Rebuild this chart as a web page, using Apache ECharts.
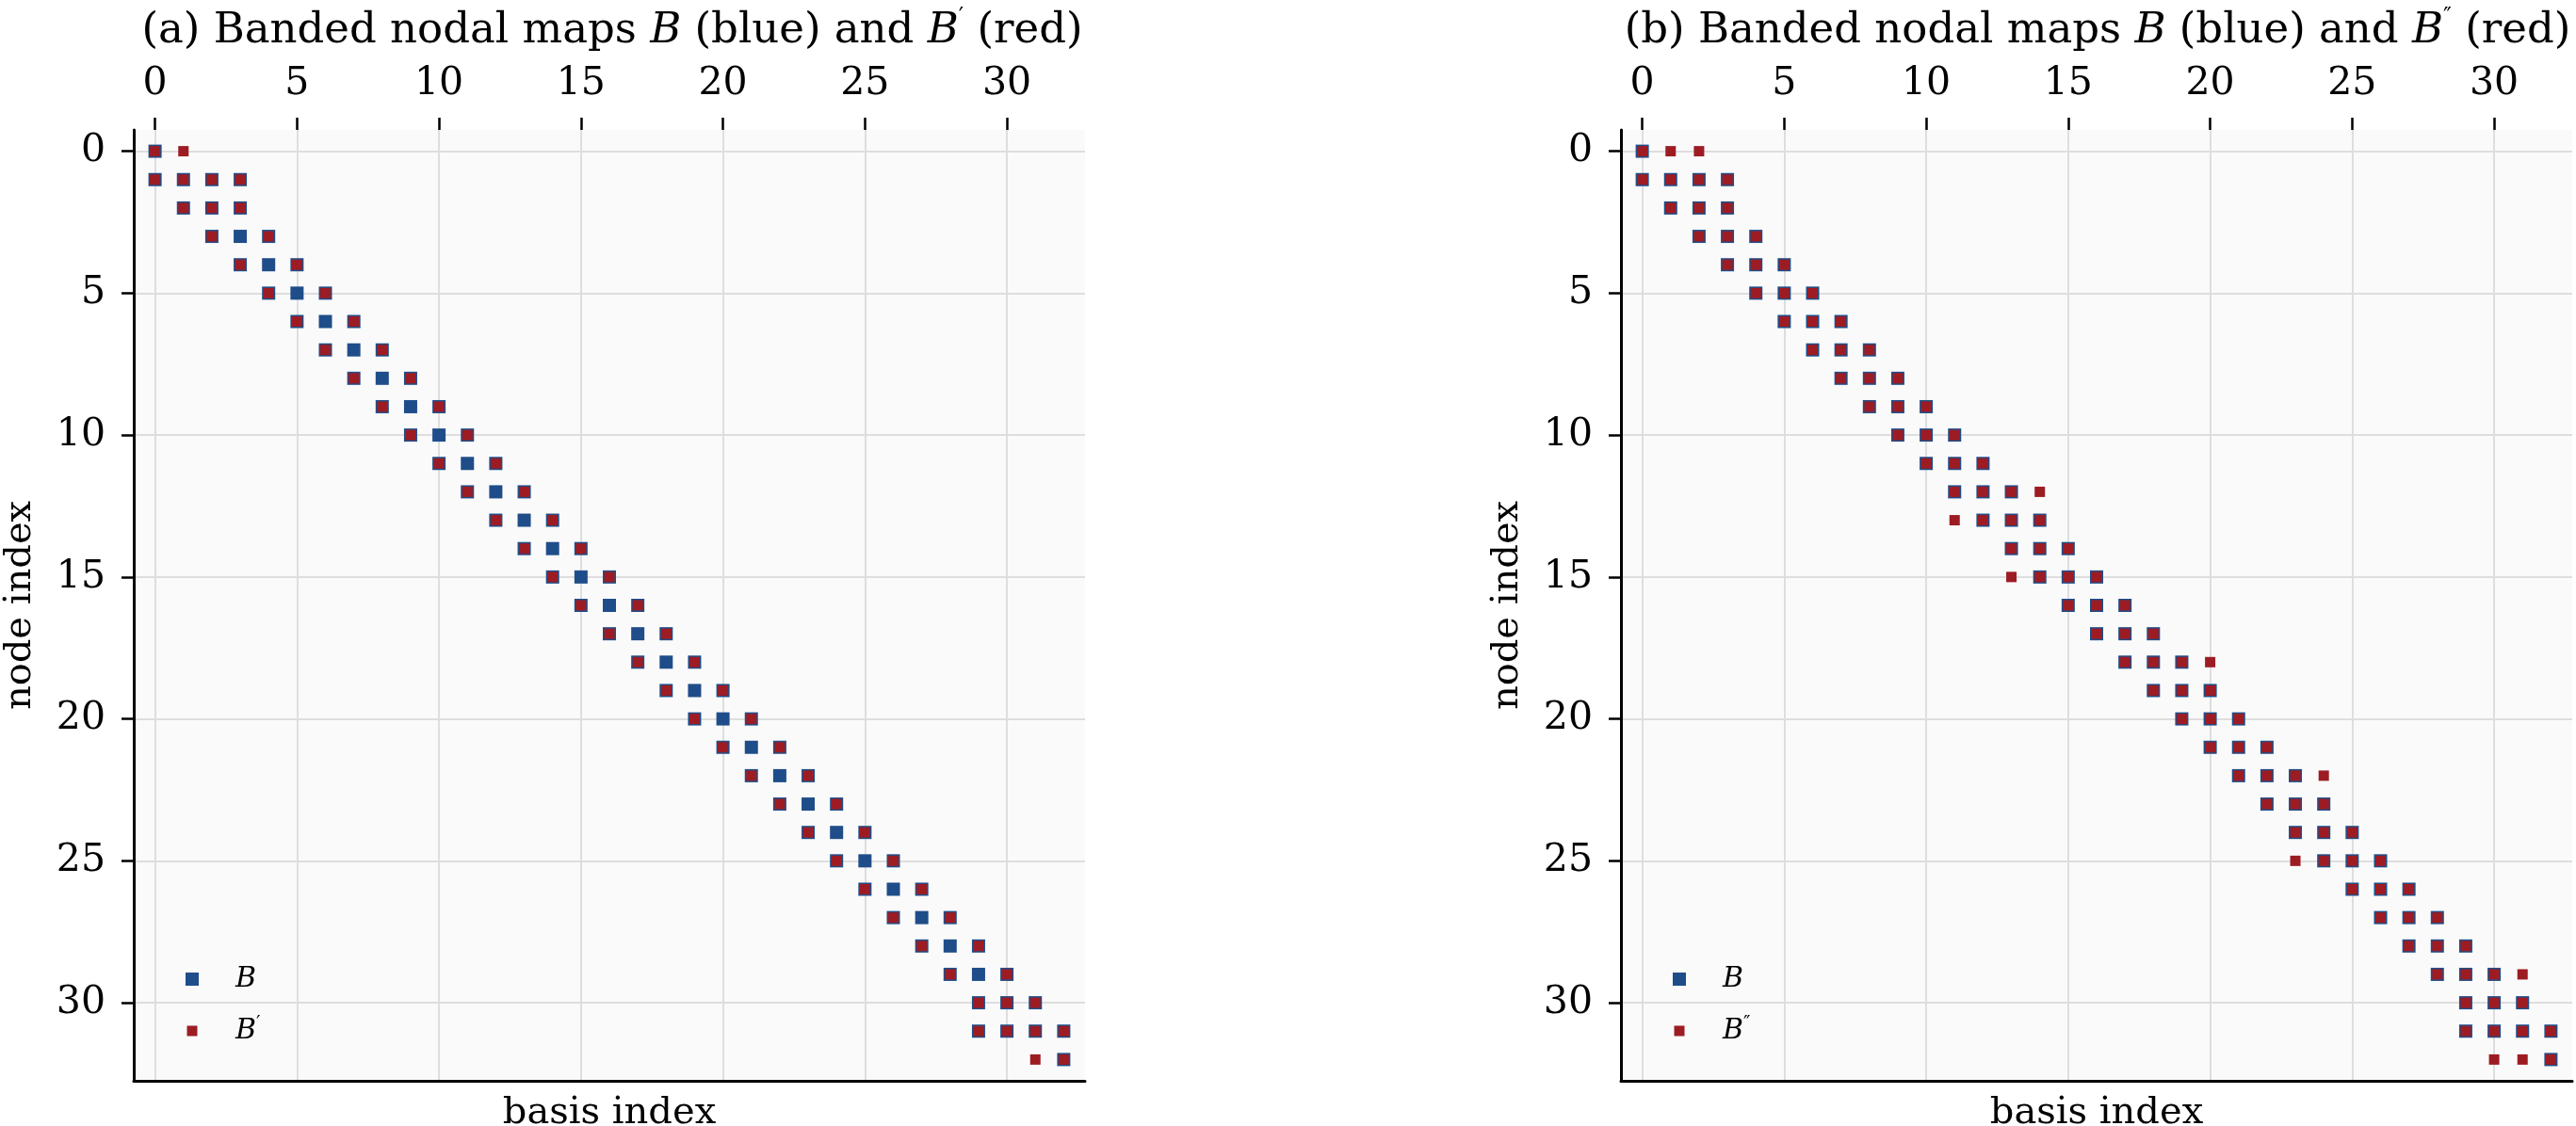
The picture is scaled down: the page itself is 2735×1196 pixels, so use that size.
<!DOCTYPE html>
<html>
<head>
<meta charset="utf-8">
<script src="https://cdn.jsdelivr.net/npm/echarts@6/dist/echarts.min.js"></script>
<style>
  html, body { margin: 0; padding: 0; background: #fff; }
  #main { width: 2735px; height: 1196px; }
</style>
</head>
<body>
<div id="main"></div>
<script>
// tick labels shared by both axes of both panels
var ticks = [0, 5, 10, 15, 20, 25, 30];

// nonzero columns of each row (row index = node index)
var bRows = [
  [0], [0, 1, 2, 3], [1, 2, 3], [2, 3, 4], [3, 4, 5], [4, 5, 6], [5, 6, 7], [6, 7, 8], [7, 8, 9], [8, 9, 10],
  [9, 10, 11], [10, 11, 12], [11, 12, 13], [12, 13, 14], [13, 14, 15], [14, 15, 16], [15, 16, 17], [16, 17, 18], [17, 18, 19], [18, 19, 20],
  [19, 20, 21], [20, 21, 22], [21, 22, 23], [22, 23, 24], [23, 24, 25], [24, 25, 26], [25, 26, 27], [26, 27, 28], [27, 28, 29], [28, 29, 30],
  [29, 30, 31], [29, 30, 31, 32], [32]
];
var bPrimeRows = [
  [0, 1], [0, 1, 2, 3], [1, 2, 3], [2, 4], [3, 5], [4, 6], [5, 7], [6, 8], [7, 9], [8, 10],
  [9, 11], [10, 12], [11, 13], [12, 14], [13, 15], [14, 16], [15, 17], [16, 18], [17, 19], [18, 20],
  [19, 21], [20, 22], [21, 23], [22, 24], [23, 25], [24, 26], [25, 27], [26, 28], [27, 29], [28, 30],
  [29, 30, 31], [29, 30, 31, 32], [31, 32]
];
var bDoublePrimeRows = [
  [0, 1, 2], [0, 1, 2, 3], [1, 2, 3], [2, 3, 4], [3, 4, 5], [4, 5, 6], [5, 6, 7], [6, 7, 8], [7, 8, 9], [8, 9, 10],
  [9, 10, 11], [10, 11, 12], [11, 12, 13, 14], [11, 12, 13, 14], [13, 14, 15], [13, 14, 15, 16], [15, 16, 17], [16, 17, 18], [17, 18, 19, 20], [18, 19, 20],
  [19, 20, 21], [20, 21, 22], [21, 22, 23, 24], [22, 23, 24], [23, 24, 25], [23, 24, 25, 26], [25, 26, 27], [26, 27, 28], [27, 28, 29], [28, 29, 30, 31],
  [29, 30, 31], [29, 30, 31, 32], [30, 31, 32]
];

var FONT = "'DejaVu Serif', serif";
var BLUE = '#1f4d89';
var RED = '#9d1c23';
var LO = -0.75, HI = 32.75;

function toPoints(rows) {
  var pts = [];
  rows.forEach(function (cols, r) {
    cols.forEach(function (c) { pts.push([c, r]); });
  });
  return pts;
}

var gridLine = { show: true, lineStyle: { color: '#dedede', width: 2 } };
var tickStyle = { color: '#000', width: 2.5 };

function topAxis(gi) {
  return {
    type: 'value', gridIndex: gi, position: 'top', min: LO, max: HI,
    axisLine: { show: false, onZero: false },
    axisTick: { show: true, length: 13, customValues: ticks, lineStyle: tickStyle },
    axisLabel: { customValues: ticks, margin: 28, fontFamily: FONT, fontSize: 41, color: '#000' },
    splitLine: gridLine
  };
}
function bottomAxis(gi) {
  return {
    type: 'value', gridIndex: gi, position: 'bottom', min: LO, max: HI,
    axisLine: { show: true, onZero: false, lineStyle: { color: '#000', width: 3 } },
    axisTick: { show: false }, axisLabel: { show: false }, splitLine: { show: false },
    name: 'basis index', nameLocation: 'middle', nameGap: 15,
    nameTextStyle: { fontFamily: FONT, fontSize: 40, color: '#000' }
  };
}
function leftAxis(gi) {
  return {
    type: 'value', gridIndex: gi, position: 'left', inverse: true, min: LO, max: HI,
    axisLine: { show: true, onZero: false, lineStyle: { color: '#000', width: 3 } },
    axisTick: { show: true, length: 13, customValues: ticks, lineStyle: tickStyle },
    axisLabel: { customValues: ticks, margin: 30, fontFamily: FONT, fontSize: 41, color: '#000' },
    splitLine: gridLine,
    name: 'node index', nameLocation: 'middle', nameGap: 100,
    nameTextStyle: { fontFamily: FONT, fontSize: 40, color: '#000' }
  };
}

var titleRich = {
  i: { fontFamily: FONT, fontStyle: 'italic', fontSize: 45, lineHeight: 52, color: '#000' },
  s: { fontFamily: FONT, fontSize: 24, lineHeight: 26, verticalAlign: 'top', color: '#000' }
};
function panelTitle(text, cx) {
  return {
    text: text, left: cx, top: 2, textAlign: 'center',
    textStyle: { fontFamily: FONT, fontSize: 45, fontWeight: 'normal', lineHeight: 52, color: '#000', rich: titleRich }
  };
}

var legendLabels = {
  B_a: '{i|B}', Bp_a: '{i|B}{s|′}',
  B_b: '{i|B}', Bpp_b: '{i|B}{s|″}'
};
var smallIcon = 'path://M0,0M14,14M1.5,1.5L12.5,1.5L12.5,12.5L1.5,12.5Z';
function panelLegend(names, x) {
  return {
    orient: 'vertical', left: x, top: 1025, padding: 0, itemGap: 23,
    itemWidth: 14, itemHeight: 14,
    data: [{ name: names[0], icon: 'rect' }, { name: names[1], icon: smallIcon }],
    formatter: function (n) { return legendLabels[n]; },
    textStyle: {
      padding: [0, 0, 0, 34],
      rich: {
        i: { fontFamily: FONT, fontStyle: 'italic', fontSize: 30, lineHeight: 34, color: '#000' },
        s: { fontFamily: FONT, fontSize: 20, lineHeight: 20, verticalAlign: 'top', color: '#000' }
      }
    }
  };
}

function dots(name, rows, size, color, xi, yi) {
  return {
    type: 'scatter', name: name, data: toPoints(rows), symbol: 'rect', symbolSize: size,
    xAxisIndex: xi, yAxisIndex: yi, silent: true,
    itemStyle: { color: color, opacity: 1 }
  };
}

var chart = echarts.init(document.getElementById('main'), null, { renderer: 'canvas' });
chart.setOption({
  animation: false,
  backgroundColor: '#ffffff',
  title: [
    panelTitle('(a) Banded nodal maps {i|B} (blue) and {i|B}{s|′} (red)', 645),
    panelTitle('(b) Banded nodal maps {i|B} (blue) and {i|B}{s|″} (red)', 2222)
  ],
  grid: [
    { left: 142, top: 138, width: 1010, height: 1010, outerBoundsMode: 'none', containLabel: false,
      show: true, backgroundColor: '#fafafa', borderWidth: 0 },
    { left: 1721, top: 138, width: 1010, height: 1010, outerBoundsMode: 'none', containLabel: false,
      show: true, backgroundColor: '#fafafa', borderWidth: 0 }
  ],
  xAxis: [topAxis(0), bottomAxis(0), topAxis(1), bottomAxis(1)],
  yAxis: [leftAxis(0), leftAxis(1)],
  legend: [panelLegend(['B_a', 'Bp_a'], 197), panelLegend(['B_b', 'Bpp_b'], 1776)],
  series: [
    dots('B_a', bRows, 14, BLUE, 0, 0),
    dots('Bp_a', bPrimeRows, 11, RED, 0, 0),
    dots('B_b', bRows, 14, BLUE, 2, 1),
    dots('Bpp_b', bDoublePrimeRows, 11, RED, 2, 1)
  ]
});
</script>
</body>
</html>
